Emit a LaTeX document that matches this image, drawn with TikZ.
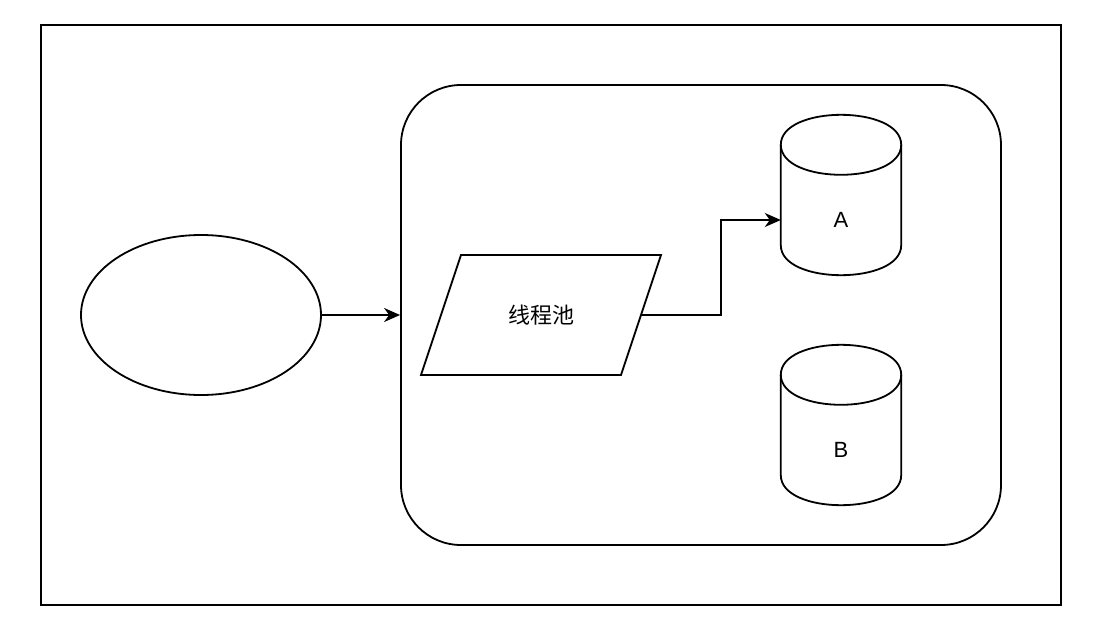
\documentclass[tikz,border=0pt]{standalone}
\usepackage{fontspec}
\setmainfont{Liberation Sans}
\newfontfamily\cjk{Noto Sans CJK SC}
\usetikzlibrary{arrows.meta,shapes.geometric}
\tikzset{
  shp/.style={draw=black, line width=1.8pt},
  conn/.style={draw=black, line width=1.8pt, -{Stealth[length=16pt,width=14pt,inset=5pt]}},
  lbl/.style={font=\fontsize{22}{24}\selectfont, inner sep=0pt},
  box/.style={minimum width=120pt, minimum height=160pt, inner sep=0pt}
}
\begin{document}
\begin{tikzpicture}[x=1pt,y=-1pt]
\useasboundingbox (0,0) rectangle (1106,634);
\node[shp, rectangle, minimum width=1020pt, minimum height=580pt, inner sep=0pt] (outer) at (551,315) {};
\node[shp, rectangle, rounded corners=60pt, minimum width=600pt, minimum height=460pt, inner sep=0pt] (rr) at (701,315) {};
\node[shp, ellipse, minimum width=240pt, minimum height=160pt, inner sep=0pt] (e) at (201,315) {};
% parallelogram
\coordinate (p1) at (421,375);
\coordinate (p2) at (461,255);
\coordinate (p3) at (661,255);
\coordinate (p4) at (621,375);
\draw[shp] (p1) -- (p2) -- (p3) -- (p4) -- cycle;
\node[lbl] (pool) at (541,315) {\cjk 线程池};
\coordinate (pe) at (641,315);
% cylinders
\node[box] (cylA) at (841,195) {};
\node[box] (cylB) at (841,425) {};
\foreach \c in {cylA,cylB}{
  \draw[shp] ([yshift=-30pt]\c.north west)
     .. controls ([yshift=10pt]\c.north west) and ([yshift=10pt]\c.north east) .. ([yshift=-30pt]\c.north east)
     -- ([yshift=30pt]\c.south east)
     .. controls ([yshift=-10pt]\c.south east) and ([yshift=-10pt]\c.south west) .. ([yshift=30pt]\c.south west)
     -- cycle;
  \draw[shp] ([yshift=-30pt]\c.north west)
     .. controls ([yshift=-70pt]\c.north west) and ([yshift=-70pt]\c.north east) .. ([yshift=-30pt]\c.north east);
}
\node[lbl] (la) at (841,220) {A};
\node[lbl] (lb) at (841,450) {B};
% connectors
\draw[conn] (e.east) -- (rr.west);
\draw[conn] (pe) -- (721,315) |- (cylA.west |- la);
\end{tikzpicture}
\end{document}
